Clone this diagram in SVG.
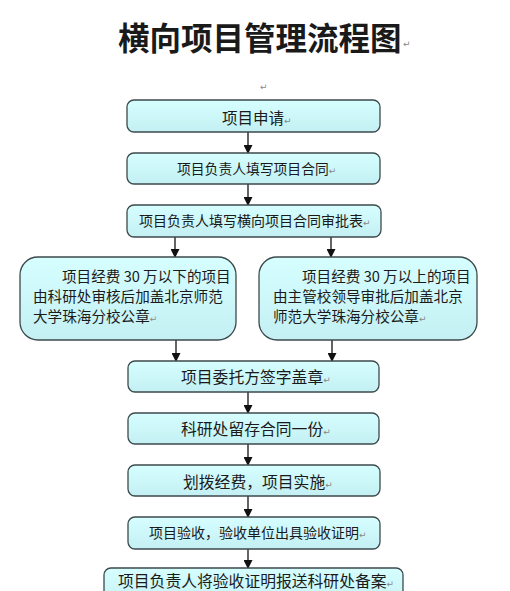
<svg xmlns="http://www.w3.org/2000/svg" width="510" height="591" viewBox="0 0 510 591">
<defs>
<linearGradient id="g" x1="0" y1="0" x2="0" y2="1">
<stop offset="0" stop-color="#d6feff"/>
<stop offset="1" stop-color="#c4f0f3"/>
</linearGradient>
<marker id="arr" markerWidth="9" markerHeight="9" refX="8" refY="4.5" orient="auto" markerUnits="userSpaceOnUse">
<path d="M0,0 L9,4.5 L0,9 Z" fill="#111"/>
</marker>
<style>
.box{fill:url(#g);stroke:#3c4a4c;stroke-width:1.3}
.t{font-family:"Noto Sans CJK SC","Liberation Sans",sans-serif;fill:#1a1a1a}
.ret{font-family:"DejaVu Sans",sans-serif;font-size:9px;fill:#888}
.c{stroke:#111;stroke-width:1.3;fill:none;marker-end:url(#arr)}
</style>
</defs>
<rect width="510" height="591" fill="#fff"/>
<g id="title">
<text class="t" x="118" y="50" font-size="31.5" font-weight="bold" fill="#000">横向项目管理流程图</text>
<text class="ret" x="403" y="47">↵</text>
<text class="ret" x="260" y="90">↵</text>
</g>
<g id="connectors">
<line class="c" x1="248" y1="132" x2="248" y2="153"/>
<line class="c" x1="248" y1="184" x2="248" y2="205"/>
<line class="c" x1="175" y1="237" x2="175" y2="257"/>
<line class="c" x1="331" y1="237" x2="331" y2="257"/>
<line class="c" x1="176" y1="340" x2="176" y2="361"/>
<line class="c" x1="332" y1="340" x2="332" y2="361"/>
<line class="c" x1="248" y1="392" x2="248" y2="413"/>
<line class="c" x1="248" y1="444" x2="248" y2="465"/>
<line class="c" x1="248" y1="496" x2="248" y2="517"/>
<line class="c" x1="248" y1="549" x2="248" y2="568"/>
</g>
<g id="n1">
<rect class="box" x="127" y="100" width="253" height="32" rx="7"/>
<text class="t" x="222" y="123.5" font-size="15.5">项目申请<tspan class="ret">↵</tspan></text>
</g>
<g id="n2">
<rect class="box" x="127" y="153" width="253" height="31" rx="7"/>
<text class="t" x="177" y="173.5" font-size="13.8">项目负责人填写项目合同<tspan class="ret">↵</tspan></text>
</g>
<g id="n3">
<rect class="box" x="127" y="205" width="254" height="32" rx="7"/>
<text class="t" x="139" y="226" font-size="14">项目负责人填写横向项目合同审批表<tspan class="ret">↵</tspan></text>
</g>
<g id="n4a">
<rect class="box" x="20" y="257" width="216" height="83" rx="18"/>
<text class="t" font-size="14.6">
<tspan x="62" y="282">项目经费 30 万以下的项目</tspan>
<tspan x="33" y="302">由科研处审核后加盖北京师范</tspan>
<tspan x="33" y="322">大学珠海分校公章<tspan class="ret">↵</tspan></tspan>
</text>
</g>
<g id="n4b">
<rect class="box" x="259" y="257" width="218" height="83" rx="18"/>
<text class="t" font-size="14.6">
<tspan x="302" y="282">项目经费 30 万以上的项目</tspan>
<tspan x="273" y="302">由主管校领导审批后加盖北京</tspan>
<tspan x="273" y="322">师范大学珠海分校公章<tspan class="ret">↵</tspan></tspan>
</text>
</g>
<g id="n5">
<rect class="box" x="128" y="361" width="251" height="31" rx="7"/>
<text class="t" x="181" y="382.5" font-size="15.8">项目委托方签字盖章<tspan class="ret">↵</tspan></text>
</g>
<g id="n6">
<rect class="box" x="128" y="413" width="251" height="31" rx="7"/>
<text class="t" x="181" y="435" font-size="15.8">科研处留存合同一份<tspan class="ret">↵</tspan></text>
</g>
<g id="n7">
<rect class="box" x="128" y="465" width="252" height="31" rx="7"/>
<text class="t" x="183" y="487.5" font-size="15.8">划拨经费，项目实施<tspan class="ret">↵</tspan></text>
</g>
<g id="n8">
<rect class="box" x="128" y="517" width="252" height="32" rx="7"/>
<text class="t" x="149" y="537.5" font-size="14">项目验收，验收单位出具验收证明<tspan class="ret">↵</tspan></text>
</g>
<g id="n9">
<rect class="box" x="104" y="568" width="299" height="40" rx="7"/>
<text class="t" x="118" y="586.5" font-size="15.8">项目负责人将验收证明报送科研处备案<tspan class="ret">↵</tspan></text>
</g>
</svg>
